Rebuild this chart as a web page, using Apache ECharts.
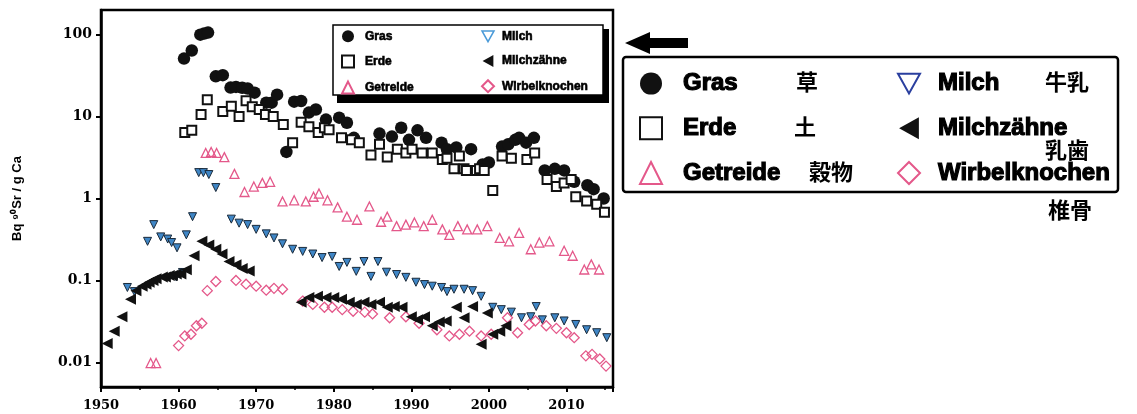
<!DOCTYPE html>
<html><head><meta charset="utf-8">
<script src="https://cdn.jsdelivr.net/npm/echarts@6/dist/echarts.min.js"></script>
<style>html,body{margin:0;padding:0;background:#fff}#c{width:1137px;height:414px}</style>
</head><body><div id="c"></div>
<script>
// ---- data ----
const xTickLabels = ['1950','1960','1970','1980','1990','2000','2010'];
const yTickLabels = ['0.01','0.1','1','10','100'];
const seriesNames = ['Gras','Erde','Getreide','Milch','Milchzähne','Wirbelknochen'];
const chineseNames = ['草','土','穀物','牛乳','乳歯','椎骨'];
const yAxisTitle = 'Bq ⁹⁰Sr / g Ca';

const gras = [[1960.7,51],[1961.7,64],[1962.8,100],[1963.3,103],[1963.8,106],[1964.8,31],[1965.7,32],
 [1966.7,22.6],[1967.4,23],[1968.2,22.5],[1968.9,22],[1969.8,19.6],[1971.3,14.8],[1972,14.8],[1972.7,18.5],
 [1973.9,3.7],[1974.9,15.2],[1975.8,15.5],[1976.8,11.2],[1977.7,12.2],[1979,9.2],[1980.7,9.7],[1981.7,8.4],
 [1982.6,5.5],[1985.9,6.2],[1987.5,5.7],[1988.7,7.3],[1989.7,5.2],[1990.8,6.8],[1991.9,5.5],[1993.9,4.8],
 [1994.6,4.0],[1995.8,4.2],[1997.7,4.0],[1999.2,2.6],[2000,2.75],[2001.7,4.3],[2002.5,4.6],[2003.4,5.2],
 [2003.9,5.5],[2004.8,4.8],[2005.8,5.5],[2007.2,2.2],[2008.5,2.3],[2009.7,2.2],[2011,1.6],[2012.7,1.45],
 [2013.5,1.3],[2014.8,1.0]];

const erde = [[1960.8,6.4],[1961.7,6.8],[1962.9,10.6],[1963.7,16],[1965.7,11.5],[1966.8,13.4],[1967.8,10],
 [1968.7,15.6],[1969.5,13.2],[1970.4,12.2],[1971.2,10.6],[1972.2,10],[1973.5,8],[1974.7,4.8],[1975.8,8.5],
 [1976.8,7.5],[1978,6.4],[1978.8,7.3],[1979.4,6.9],[1981,5.5],[1982.3,5.2],[1983.3,4.8],[1984.8,3.4],
 [1985.9,4.6],[1986.9,3.2],[1988.2,4.0],[1989.3,3.6],[1990.1,4.0],[1991.4,3.6],[1992.7,3.6],[1994,3.0],
 [1994.6,3.1],[1995.5,2.3],[1996.2,3.3],[1996.8,2.3],[1997.1,2.2],[1998.4,2.2],[1998.8,2.3],[1999.4,2.2],
 [2000.5,1.25],[2001.7,3.3],[2002.9,3.1],[2004.9,3.0],[2005.9,3.6],[2007.5,1.7],[2008.7,1.4],[2009.7,1.55],
 [2010.6,1.7],[2011.2,1.05],[2012.6,0.93],[2013.9,0.85],[2014.9,0.68]];

const getreide = [[1956.4,0.0098],[1957.1,0.0098],[1963.5,3.6],[1964.2,3.7],[1964.9,3.6],[1965.9,3.2],
 [1967.2,2.0],[1968.5,1.2],[1969.7,1.4],[1970.8,1.55],[1971.8,1.6],[1973.4,0.92],[1974.9,0.95],[1976.4,0.92],
 [1977.4,1.05],[1978.1,1.15],[1979.2,0.95],[1980.5,0.78],[1981.7,0.6],[1983,0.55],[1984.6,0.8],[1986.1,0.52],
 [1986.9,0.6],[1988.1,0.46],[1989.3,0.48],[1990.4,0.51],[1991.6,0.46],[1992.7,0.55],[1994,0.42],[1994.9,0.36],
 [1996,0.46],[1997.2,0.42],[1998.5,0.42],[1999.8,0.46],[2001.4,0.33],[2002.6,0.3],[2003.9,0.38],[2005.4,0.24],
 [2006.5,0.29],[2007.8,0.3],[2009.7,0.23],[2010.8,0.2],[2012.3,0.136],[2013.2,0.157],[2014.2,0.136]];

const milch = [[1953.4,0.082],[1954.3,0.073],[1956,0.3],[1956.8,0.48],[1957.7,0.34],[1958.6,0.32],[1959.1,0.29],
 [1959.7,0.11],[1959.8,0.25],[1960.5,0.125],[1961,0.36],[1961.8,0.6],[1962.6,2.07],[1963.2,2.07],[1963.9,1.96],
 [1964.8,1.36],[1966.8,0.56],[1967.8,0.5],[1968.9,0.48],[1970,0.42],[1971.3,0.37],[1972.3,0.33],[1973.4,0.28],
 [1974.7,0.24],[1976,0.226],[1977.3,0.21],[1978.5,0.19],[1979.8,0.196],[1980.7,0.148],[1981.7,0.166],
 [1982.9,0.129],[1983.9,0.17],[1984.8,0.112],[1985.7,0.17],[1986.8,0.126],[1988.1,0.118],[1989.3,0.109],
 [1990.6,0.095],[1991.7,0.089],[1992.7,0.085],[1993.9,0.082],[1994.6,0.073],[1995.5,0.078],[1996.8,0.078],
 [1997.9,0.075],[1999,0.064],[2000.5,0.047],[2001.6,0.044],[2002.9,0.041],[2004.2,0.035],[2005.4,0.036],
 [2006.1,0.048],[2006.9,0.033],[2008.5,0.035],[2009.7,0.032],[2011.2,0.029],[2012.6,0.025],[2013.9,0.023],
 [2015.2,0.02]];

const milchzaehne = [[1950.8,0.017],[1951.7,0.024],[1952.7,0.036],[1953.8,0.059],[1954.5,0.075],[1955.3,0.085],
 [1955.8,0.09],[1956.2,0.095],[1956.7,0.1],[1957.1,0.105],[1957.9,0.11],[1958.3,0.11],[1958.8,0.115],
 [1959.2,0.115],[1959.7,0.12],[1960.3,0.12],[1961,0.135],[1962,0.2],[1963,0.3],[1963.9,0.27],[1964.8,0.24],
 [1965.6,0.21],[1966.5,0.17],[1967.4,0.155],[1968.2,0.14],[1969.1,0.13],[1975.8,0.054],[1976.8,0.062],
 [1977.9,0.064],[1979,0.062],[1980,0.062],[1981,0.059],[1982,0.054],[1982.9,0.051],[1983.9,0.054],
 [1984.8,0.051],[1985.9,0.054],[1986.9,0.047],[1987.8,0.048],[1988.8,0.047],[1990,0.036],[1990.8,0.033],
 [1991.7,0.036],[1992.7,0.028],[1993.6,0.031],[1994.5,0.032],[1995.8,0.047],[1996.8,0.035],[1997.9,0.048],
 [1999,0.0166],[1999.8,0.04],[2000.5,0.022],[2001.4,0.024],[2002.2,0.028]];

const wirbelknochen = [[1960,0.016],[1960.8,0.021],[1961.6,0.022],[1962.3,0.028],[1963,0.03],[1963.7,0.075],
 [1964.8,0.097],[1967.4,0.1],[1968.7,0.09],[1970,0.085],[1971.3,0.076],[1972.3,0.08],[1973.4,0.078],
 [1976,0.056],[1977.3,0.051],[1978.8,0.047],[1979.8,0.047],[1981.1,0.044],[1982.5,0.042],[1984,0.041],
 [1985,0.039],[1987.2,0.035],[1989.3,0.036],[1991,0.03],[1993.3,0.025],[1994.9,0.021],[1996.2,0.022],
 [1997.5,0.024],[1999,0.021],[2000.3,0.022],[2002.4,0.035],[2003.7,0.023],[2005.2,0.029],[2006,0.032],
 [2007.4,0.028],[2008.7,0.026],[2010,0.023],[2011,0.02],[2012.5,0.012],[2013.3,0.0125],[2014.3,0.011],
 [2015.1,0.009]];

// ---- chart ----
const PINK = '#e4588a', BLUE = '#3f86c6', INK = '#111';
const DOWN_TRI = 'path://M0,0 L10,0 L5,9 Z';
const LEFT_TRI = 'path://M0,5 L9,0 L9,10 Z';
const chart = echarts.init(document.getElementById('c'), null, {renderer:'canvas'});
const boldFont = 'Liberation Sans';
const serifFont = 'DejaVu Serif';

function legendBlock(names, icons, styles, left, top, size, gap, fs, stroke, pad){
  return {
    orient:'vertical', left:left, top:top, padding:0, itemWidth:size, itemHeight:size, itemGap:gap,
    data:names.map((n,i) => {
      const d = {name:n};
      if (icons[i]) d.icon = icons[i];
      if (styles[i]) d.itemStyle = styles[i];
      return d;
    }),
    selectedMode:false, z:8,
    formatter: n => '{t|' + n + '}',
    textStyle:{color:'#000', rich:{t:{fontFamily:boldFont, fontWeight:'bold', fontSize:fs, color:'#000',
      lineHeight:size, padding:[0,0,0,pad], textBorderColor:'#000', textBorderWidth:stroke}}}
  };
}
const hollowBlueSmall = {color:'#fff', borderColor:'#4a9ad8', borderWidth:1.5};
const hollowBlueBig = {color:'#fff', borderColor:'#2a3f9f', borderWidth:2};

const option = {
  backgroundColor:'#fff',
  animation:false,
  grid:{left:101, right:524, top:10, bottom:27, show:true, borderColor:'#000', borderWidth:2.5, backgroundColor:'transparent'},
  xAxis:{type:'value', min:1950, max:2016, interval:10,
    axisLine:{show:true, lineStyle:{color:'#000', width:2.5}},
    axisTick:{show:true, length:5, lineStyle:{color:'#000', width:2}},
    minorTick:{show:true, splitNumber:2, length:3, lineStyle:{color:'#000', width:1.5}},
    splitLine:{show:false},
    axisLabel:{showMaxLabel:false, margin:12, color:'#000', fontFamily:serifFont, fontWeight:'bold', fontSize:13,
      formatter:v => xTickLabels[Math.round((v-1950)/10)] ?? ''}
  },
  yAxis:{type:'log', logBase:10, min:0.005, max:200,
    name:yAxisTitle, nameLocation:'middle', nameGap:77, nameRotate:90,
    nameTextStyle:{fontFamily:boldFont, fontWeight:'bold', fontSize:13, color:'#000'},
    axisLine:{show:true, lineStyle:{color:'#000', width:2.5}},
    axisTick:{show:true, length:5, lineStyle:{color:'#000', width:2}},
    splitLine:{show:false},
    axisLabel:{showMinLabel:false, showMaxLabel:false, margin:9, color:'#000', fontFamily:serifFont, fontWeight:'bold', fontSize:14,
      formatter:v => { const l = Math.log10(v), e = Math.round(l); return Math.abs(l-e) < 1e-6 ? (yTickLabels[e+2] ?? '') : ''; }}
  },
  legend:[
    legendBlock(seriesNames.slice(0,3), [null,null,null], [], 341, 30, 12, 12, 12, 0.6, 6),
    legendBlock(seriesNames.slice(3,6), [DOWN_TRI,LEFT_TRI,null], [hollowBlueSmall], 481, 30, 12, 12, 12, 0.6, 3),
    legendBlock(seriesNames.slice(0,3), [null,null,null], [], 639, 71, 22, 19.5, 24, 1.2, 16),
    legendBlock(seriesNames.slice(3,6), [DOWN_TRI,LEFT_TRI,null], [hollowBlueBig], 897, 71, 22, 19.5, 24, 1.2, 13)
  ],
  graphic:[
    {type:'rect', z:5, shape:{x:337, y:29, width:272, height:74}, style:{fill:'#000'}},
    {type:'rect', z:6, shape:{x:333, y:25, width:270, height:70}, style:{fill:'#fff', stroke:'#000', lineWidth:1.5}},
    {type:'rect', z:5, shape:{x:623, y:57, width:495, height:135, r:3}, style:{fill:'#fff', stroke:'#000', lineWidth:2.5}},
    {type:'polygon', z:5, shape:{points:[[625,43],[650,32],[650,38],[688,38],[688,48],[650,48],[650,54]]}, style:{fill:'#000'}},
    {type:'text', z:9, x:807, y:82, style:{text:chineseNames[0], fontFamily:'Noto Sans CJK JP', fontWeight:'bold', fontSize:22, fill:'#000', align:'center', verticalAlign:'middle'}},
    {type:'text', z:9, x:805, y:127, style:{text:chineseNames[1], fontFamily:'Noto Sans CJK JP', fontWeight:'bold', fontSize:22, fill:'#000', align:'center', verticalAlign:'middle'}},
    {type:'text', z:9, x:831, y:172, style:{text:chineseNames[2], fontFamily:'Noto Sans CJK JP', fontWeight:'bold', fontSize:22, fill:'#000', align:'center', verticalAlign:'middle'}},
    {type:'text', z:9, x:1067, y:82, style:{text:chineseNames[3], fontFamily:'Noto Sans CJK JP', fontWeight:'bold', fontSize:22, fill:'#000', align:'center', verticalAlign:'middle'}},
    {type:'text', z:9, x:1067, y:150, style:{text:chineseNames[4], fontFamily:'Noto Sans CJK JP', fontWeight:'bold', fontSize:22, fill:'#000', align:'center', verticalAlign:'middle'}},
    {type:'text', z:9, x:1070, y:210, style:{text:chineseNames[5], fontFamily:'Noto Sans CJK JP', fontWeight:'bold', fontSize:22, fill:'#000', align:'center', verticalAlign:'middle'}}
  ],
  series:[
    {name:seriesNames[0], type:'scatter', data:gras, symbol:'circle', symbolSize:12.5, z:3,
      itemStyle:{color:INK, borderColor:INK, borderWidth:0, opacity:1}},
    {name:seriesNames[1], type:'scatter', data:erde, symbol:'rect', symbolSize:9, z:3,
      itemStyle:{color:'#fff', borderColor:INK, borderWidth:2, opacity:1}},
    {name:seriesNames[2], type:'scatter', data:getreide, symbol:'triangle', symbolSize:9, z:2,
      itemStyle:{color:'rgba(255,255,255,0)', borderColor:PINK, borderWidth:1.3, opacity:1}},
    {name:seriesNames[3], type:'scatter', data:milch, symbol:'triangle', symbolRotate:180, symbolSize:8, z:2,
      itemStyle:{color:BLUE, borderColor:'#1a2a3a', borderWidth:1, opacity:1}},
    {name:seriesNames[4], type:'scatter', data:milchzaehne, symbol:'triangle', symbolRotate:90, symbolSize:11, z:3,
      itemStyle:{color:INK, borderColor:INK, borderWidth:0, opacity:1}},
    {name:seriesNames[5], type:'scatter', data:wirbelknochen, symbol:'diamond', symbolSize:10, z:2,
      itemStyle:{color:'rgba(255,255,255,0)', borderColor:PINK, borderWidth:1.3, opacity:1}}
  ]
};
chart.setOption(option);
</script></body></html>
